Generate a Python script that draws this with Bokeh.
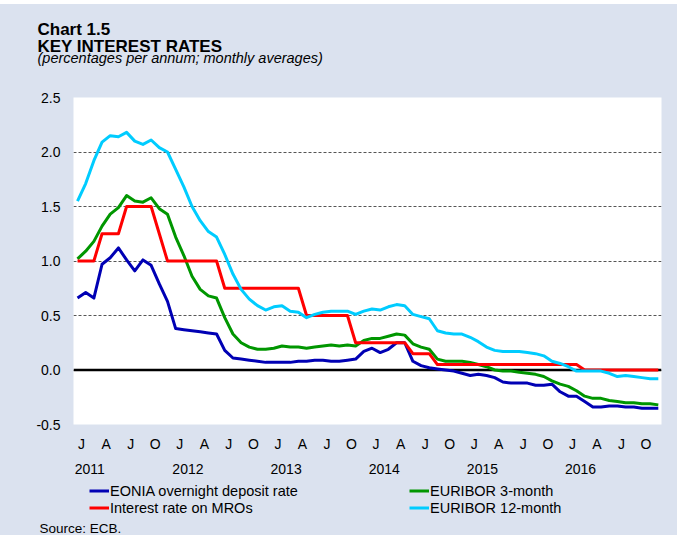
from bokeh.plotting import figure
from bokeh.layouts import column
from bokeh.models import (Legend, LegendItem, Label, Span, LinearAxis, FixedTicker,
                          NumeralTickFormatter, Range1d, ColumnDataSource, Spacer)
from bokeh.embed import file_html
from bokeh.resources import INLINE

# ---------------- data (monthly averages, Jan 2011 - Dec 2016) ----------------
months = [f"{y}-{m:02d}" for y in range(2011, 2017) for m in range(1, 13)]
year_labels = ["2011", "2012", "2013", "2014", "2015", "2016"]
quarter_letters = ["J", "A", "J", "O"]
y_ticks = [-0.5, 0.0, 0.5, 1.0, 1.5, 2.0, 2.5]

eonia = [0.66, 0.71, 0.66, 0.97, 1.03, 1.12, 1.01, 0.91, 1.01, 0.96, 0.79, 0.63,
         0.38, 0.37, 0.36, 0.35, 0.34, 0.33, 0.18, 0.11, 0.10, 0.09, 0.08, 0.07,
         0.07, 0.07, 0.07, 0.08, 0.08, 0.09, 0.09, 0.08, 0.08, 0.09, 0.10, 0.17,
         0.20, 0.16, 0.19, 0.25, 0.25, 0.08, 0.04, 0.02, 0.01, 0.00, -0.01, -0.03,
         -0.05, -0.04, -0.05, -0.07, -0.11, -0.12, -0.12, -0.12, -0.14, -0.14, -0.13, -0.20,
         -0.24, -0.24, -0.29, -0.34, -0.34, -0.33, -0.33, -0.34, -0.34, -0.35, -0.35, -0.35]

mro = [1.00, 1.00, 1.00, 1.25, 1.25, 1.25, 1.50, 1.50, 1.50, 1.50, 1.25, 1.00,
       1.00, 1.00, 1.00, 1.00, 1.00, 1.00, 0.75, 0.75, 0.75, 0.75, 0.75, 0.75,
       0.75, 0.75, 0.75, 0.75, 0.50, 0.50, 0.50, 0.50, 0.50, 0.50, 0.25, 0.25,
       0.25, 0.25, 0.25, 0.25, 0.25, 0.15, 0.15, 0.15, 0.05, 0.05, 0.05, 0.05,
       0.05, 0.05, 0.05, 0.05, 0.05, 0.05, 0.05, 0.05, 0.05, 0.05, 0.05, 0.05,
       0.05, 0.05, 0.00, 0.00, 0.00, 0.00, 0.00, 0.00, 0.00, 0.00, 0.00, 0.00]

euribor_3m = [1.02, 1.09, 1.18, 1.32, 1.43, 1.49, 1.60, 1.55, 1.54, 1.58, 1.48, 1.43,
              1.22, 1.05, 0.86, 0.74, 0.68, 0.66, 0.48, 0.33, 0.25, 0.21, 0.19, 0.19,
              0.20, 0.22, 0.21, 0.21, 0.20, 0.21, 0.22, 0.23, 0.22, 0.23, 0.22, 0.27,
              0.29, 0.29, 0.31, 0.33, 0.32, 0.24, 0.21, 0.19, 0.10, 0.08, 0.08, 0.08,
              0.07, 0.05, 0.03, 0.00, -0.01, -0.01, -0.02, -0.03, -0.04, -0.06, -0.10, -0.13,
              -0.15, -0.19, -0.24, -0.26, -0.26, -0.28, -0.29, -0.30, -0.30, -0.31, -0.31, -0.32]

euribor_12m = [1.55, 1.71, 1.92, 2.09, 2.15, 2.14, 2.18, 2.10, 2.07, 2.11, 2.04, 2.00,
               1.84, 1.68, 1.50, 1.37, 1.27, 1.22, 1.06, 0.88, 0.74, 0.65, 0.59, 0.55,
               0.58, 0.59, 0.54, 0.53, 0.48, 0.51, 0.53, 0.54, 0.54, 0.54, 0.51, 0.54,
               0.56, 0.55, 0.58, 0.60, 0.59, 0.51, 0.49, 0.47, 0.36, 0.34, 0.33, 0.33,
               0.30, 0.26, 0.21, 0.18, 0.17, 0.17, 0.17, 0.16, 0.15, 0.13, 0.08, 0.06,
               0.03, -0.01, -0.01, -0.01, -0.01, -0.03, -0.06, -0.05, -0.06, -0.07, -0.08, -0.08]

series_names = ["EONIA overnight deposit rate", "Interest rate on MROs",
                "EURIBOR 3-month", "EURIBOR 12-month"]

# ---------------- styling ----------------
BG = "#DBE2EF"
FONT = "Liberation Sans"
BLUE, RED, GREEN, CYAN = "#0000B4", "#FF0000", "#009600", "#00CCFF"
W = 677

x = list(range(len(months)))
src = ColumnDataSource(dict(x=x, eonia=eonia, mro=mro, e3=euribor_3m, e12=euribor_12m))


def bare_figure(height):
    f = figure(width=W, height=height, output_backend="svg", toolbar_location=None,
               x_range=Range1d(1000, 1001), y_range=Range1d(1000, 1001),
               x_axis_location=None, y_axis_location=None, title=None,
               min_border=0, min_border_left=0, min_border_right=0,
               min_border_top=0, min_border_bottom=0,
               background_fill_color=BG, border_fill_color=BG, outline_line_color=None)
    f.frame_align = False
    f.xgrid.visible = False
    f.ygrid.visible = False
    return f


def add_text(fig, text, xs, ys, size, style="normal"):
    fig.add_layout(Label(x=xs, y=ys, x_units="screen", y_units="screen", text=text,
                         text_font=FONT, text_font_size=size, text_font_style=style,
                         text_color="black", text_baseline="alphabetic", text_align="left"))


# ---------------- header ----------------
top_gap = Spacer(width=W, height=4, styles={"background-color": "white"})
header = bare_figure(68)
add_text(header, "Chart 1.5", 37, 43, "17px", "bold")
add_text(header, "KEY INTEREST RATES", 37, 26, "17px", "bold")
add_text(header, "(percentages per annum; monthly averages)", 37, 15, "14.5px", "italic")

# ---------------- main chart ----------------
p = figure(width=W, height=408, output_backend="svg", toolbar_location=None, title=None,
           x_range=Range1d(-0.49, 71.39), y_range=Range1d(-0.5, 2.5),
           min_border_left=73, min_border_right=16, min_border_top=25, min_border_bottom=56,
           background_fill_color="white", border_fill_color=BG, outline_line_color=None)
p.frame_align = False

p.xgrid.grid_line_color = None
p.ygrid.ticker = FixedTicker(ticks=y_ticks)
p.ygrid.grid_line_color = "#555555"
p.ygrid.grid_line_dash = "3 2"
p.ygrid.grid_line_width = 1
p.add_layout(Span(location=0, dimension="width", line_color="black", line_width=2.5,
                  level="underlay"))

p.yaxis.ticker = FixedTicker(ticks=y_ticks)
p.yaxis.formatter = NumeralTickFormatter(format="0.0")

q_ticks = [i + 0.5 for i in range(0, len(months), 3)]
p.xaxis.ticker = FixedTicker(ticks=q_ticks)
p.xaxis.major_label_overrides = {t: quarter_letters[k % 4] for k, t in enumerate(q_ticks)}
p.xaxis.major_label_standoff = 11

yr_ticks = [12 * k + 1.5 for k in range(len(year_labels))]
year_axis = LinearAxis(ticker=FixedTicker(ticks=yr_ticks),
                       major_label_overrides={t: year_labels[k] for k, t in enumerate(yr_ticks)},
                       major_label_standoff=9)
p.add_layout(year_axis, "below")

for ax in [p.yaxis[0], p.xaxis[0], year_axis]:
    ax.axis_line_color = None
    ax.major_tick_line_color = None
    ax.minor_tick_line_color = None
    ax.major_tick_out = 0
    ax.major_tick_in = 0
    ax.major_label_text_font = FONT
    ax.major_label_text_font_size = "14px"
    ax.major_label_text_color = "black"
p.yaxis.major_label_standoff = 13

colors = {"eonia": BLUE, "mro": RED, "e3": GREEN, "e12": CYAN}
for col in ["eonia", "e3", "mro", "e12"]:
    p.line("x", col, source=src, line_color=colors[col], line_width=3, line_join="round")

# ---------------- footer (legend + source) ----------------
footer = bare_figure(55)
# same series, drawn far outside the footer's visible range: only their legend keys show
keys = [footer.line("x", col, source=src, line_color=colors[col], line_width=3)
        for col in ["eonia", "mro", "e3", "e12"]]


def make_legend(idx, loc):
    leg = Legend(items=[LegendItem(label=series_names[i], renderers=[keys[i]]) for i in idx],
                 location=loc, orientation="vertical",
                 background_fill_alpha=0, border_line_alpha=0,
                 padding=0, margin=0, spacing=0,
                 glyph_width=20, glyph_height=17, label_height=17, label_standoff=1,
                 label_text_font=FONT, label_text_font_size="14.5px", label_text_color="black",
                 label_text_baseline="middle")
    footer.add_layout(leg)


make_legend([0, 1], (89, 19))
make_legend([2, 3], (409, 19))
add_text(footer, "Source: ECB.", 39, 7, "13.5px")

layout = column(top_gap, header, p, footer, spacing=0, styles={"background-color": BG})
open("out.html", "w").write(file_html(layout, INLINE))
